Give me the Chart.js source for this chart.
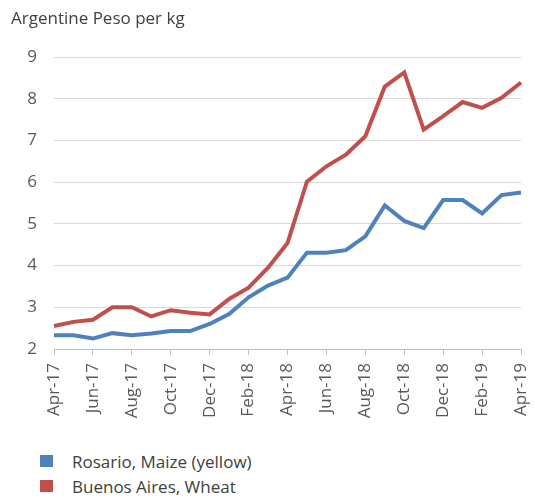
<!DOCTYPE html>
<html>
<head>
<meta charset="utf-8">
<script src="https://cdn.jsdelivr.net/npm/chart.js@4"></script>
<style>
  body { margin: 0; background: #fff; font-family: "Open Sans", sans-serif; }
  #wrap { position: relative; width: 535px; height: 501px; }
  #title { position: absolute; left: 11px; top: 6px; font-size: 17px; color: #404040; }
  #chartBox { position: absolute; left: 0; top: 0; width: 535px; height: 440px; }
  .sw { position: absolute; left: 40px; width: 13px; height: 12px; }
  .lg { position: absolute; left: 72px; font-size: 17px; color: #404040; white-space: nowrap; }
</style>
</head>
<body>
<div id="wrap">
  <div id="chartBox"><canvas id="priceChart"></canvas></div>
  <div id="title">Argentine Peso per kg</div>
  <div class="sw" style="top:455px;background:#4f81bd"></div>
  <div class="lg" style="top:450px">Rosario, Maize (yellow)</div>
  <div class="sw" style="top:480px;background:#c0504d"></div>
  <div class="lg" style="top:475px">Buenos Aires, Wheat</div>
</div>
<script>
const months = [
  "Apr-17", "May-17", "Jun-17", "Jul-17", "Aug-17", "Sep-17", "Oct-17", "Nov-17", "Dec-17",
  "Jan-18", "Feb-18", "Mar-18", "Apr-18", "May-18", "Jun-18", "Jul-18", "Aug-18", "Sep-18",
  "Oct-18", "Nov-18", "Dec-18", "Jan-19", "Feb-19", "Mar-19", "Apr-19",
];
const maize = [
  2.33, 2.33, 2.25, 2.38, 2.33, 2.37, 2.43, 2.43, 2.6,
  2.84, 3.24, 3.52, 3.71, 4.31, 4.31, 4.37, 4.7, 5.44,
  5.07, 4.9, 5.57, 5.57, 5.25, 5.69, 5.75,
];
const wheat = [
  2.55, 2.65, 2.7, 3.0, 3.0, 2.78, 2.93, 2.87, 2.83,
  3.2, 3.47, 3.95, 4.54, 6.01, 6.38, 6.66, 7.1, 8.29,
  8.63, 7.26, 7.58, 7.92, 7.78, 8.02, 8.39,
];
const yMin = 2;
const yMax = 9;

const ctx = document.getElementById("priceChart").getContext("2d");
new Chart(ctx, {
  type: "line",
  data: {
    labels: months,
    datasets: [
      {
        label: "Rosario, Maize (yellow)",
        data: maize,
        borderColor: "#4f81bd",
        borderWidth: 4,
        pointRadius: 0,
        tension: 0,
      },
      {
        label: "Buenos Aires, Wheat",
        data: wheat,
        borderColor: "#c0504d",
        borderWidth: 4,
        pointRadius: 0,
        tension: 0,
      },
    ],
  },
  options: {
    responsive: true,
    maintainAspectRatio: false,
    animation: false,
    layout: { padding: { top: 57, right: 14, left: 0, bottom: 0 } },
    plugins: {
      legend: { display: false },
      tooltip: { enabled: false },
    },
    scales: {
      x: {
        offset: false,
        afterFit: (scale) => {
          scale.height = 91;
          scale.paddingLeft = 0;
          scale.paddingRight = 0;
        },
        grid: {
          drawOnChartArea: false,
          tickLength: 6,
          color: (c) => (c.index % 2 === 0 ? "#bfbfbf" : "rgba(0,0,0,0)"),
        },
        border: { display: true, color: "#bfbfbf", width: 1 },
        ticks: {
          autoSkip: false,
          maxRotation: 90,
          minRotation: 90,
          padding: 8,
          color: "#595959",
          font: { family: "Open Sans", size: 17 },
          callback: function (val, i) { return i % 2 === 0 ? this.getLabelForValue(val) : ""; },
        },
      },
      y: {
        min: yMin,
        max: yMax,
        afterFit: (scale) => { scale.width = 54; },
        grid: { color: "#d9d9d9", drawTicks: false },
        border: { display: false },
        ticks: {
          stepSize: 1,
          padding: 17,
          color: "#595959",
          font: { family: "Open Sans", size: 17 },
        },
      },
    },
  },
});
</script>
</body>
</html>
